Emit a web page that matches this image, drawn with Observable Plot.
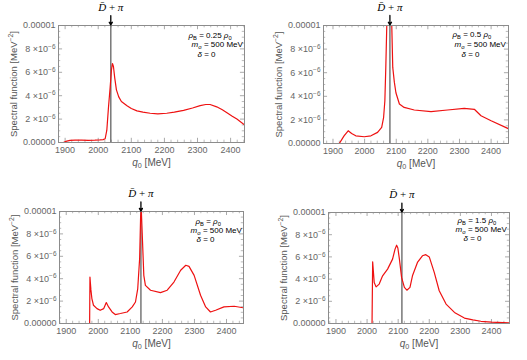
<!DOCTYPE html>
<html><head><meta charset="utf-8">
<script src="https://cdn.jsdelivr.net/npm/d3@7"></script>
<script src="https://cdn.jsdelivr.net/npm/@observablehq/plot@0.6"></script>
<style>
body{margin:0;background:#fff;}
#wrap{position:relative;width:527px;height:360px;overflow:hidden;font-family:"Liberation Sans",Arial,sans-serif;}
.panel{position:absolute;}
</style></head><body><div id="wrap"></div>
<script>
// ---- data (q0 in MeV, spectral function in units of 1e-6 MeV^-2) ----
const q1 = [1896,1905,1915,1930,1950,1970,1990,2005,2015,2021,2026,2031,2036,2040,2043,2046,2050,2055,2062,2070,2087,2100,2117,2135,2157,2180,2207,2230,2258,2285,2308,2325,2338,2358,2375,2389,2405,2419,2442];
const a1 = [0.02,0.12,0.18,0.2,0.2,0.19,0.2,0.22,0.25,0.32,1.05,3.0,4.7,6.2,6.75,6.5,5.5,4.5,3.9,3.5,3.15,2.9,2.7,2.6,2.5,2.45,2.5,2.6,2.75,2.95,3.15,3.25,3.25,3.05,2.8,2.55,2.25,2.0,1.5];

const q2 = [1920,1935,1948,1959,1972,1999,2020,2041,2054,2060,2064,2067,2071,2078,2085,2089,2094,2099,2110,2125,2157,2210,2262,2315,2347,2368,2400,2455];
const a2 = [0,0.65,1.08,0.85,0.65,0.57,0.65,0.94,1.36,2.2,3.6,6.45,11,25,11,6.45,5.2,4.3,3.35,3.06,2.84,2.7,2.84,2.97,2.9,2.35,1.93,1.25];

const q3 = [1879,1973,1974,1977,1980,1985,1996,2006,2017,2025,2032,2043,2053,2069,2090,2106,2116,2123,2129,2132,2134,2138,2142,2147,2163,2194,2215,2236,2257,2273,2283,2299,2319,2335,2350,2366,2392,2424,2453];
const a3 = [0,0,4.15,3.0,2.23,1.63,1.33,1.18,1.33,1.87,1.48,1.03,0.8,0.89,1.03,1.48,1.92,3.1,5.8,9.5,10.3,7.3,4.3,3.4,2.97,2.76,2.97,3.7,4.75,5.2,5.1,4.3,2.52,1.48,1.03,1.18,1.48,1.54,1.4];

const q4 = [2016,2018,2023,2029,2039,2050,2066,2082,2090,2095,2099,2104,2111,2120,2128,2138,2146,2162,2178,2189,2200,2216,2232,2254,2281,2313,2340,2366,2400,2458];
const a4 = [0,5.56,3.7,3.3,3.55,4.3,4.9,5.8,6.7,7.05,6.8,5.8,4.15,3.25,3.0,3.25,4.3,5.5,6.1,6.2,6.0,4.6,2.95,1.75,1.0,0.49,0.32,0.2,0.12,0.05];

const thresholds = [2038, 2080, 2133, 2112];
const densityLabels = ["*ρ*_{B} = 0.25 *ρ*_{0}", "*ρ*_{B} = 0.5 *ρ*_{0}", "*ρ*_{B} = *ρ*_{0}", "*ρ*_{B} = 1.5 *ρ*_{0}"];
const massLabel = "*m*_{σ} = 500 MeV";
const deltaLabel = "*δ* = 0";
const thresholdLabel = "*D\u0304* + *π*";
const xLabel = "*q*_{0} [MeV]";
const yLabel = "Spectral function [MeV^{−2}]";
const xTicks = [1900,2000,2100,2200,2300,2400];
const yTicks = [0,2,4,6,8,10];

// ---- layout ----
const panels = [
  {q:q1,a:a1,dom:[1880,2442],left:0,top:0,w:264,h:175,m:[25,20,33,58],ann:[[-56,10],[-53,19],[-47,29]]},
  {q:q2,a:a2,dom:[1870,2455],left:264,top:0,w:263,h:175,m:[25,19,32,59],ann:[[-56,9],[-54,19],[-47,29]]},
  {q:q3,a:a3,dom:[1879,2453],left:0,top:175,w:264,h:185,m:[36,21,37,59],ann:[[-48,10],[-53,19],[-47,28]]},
  {q:q4,a:a4,dom:[1876,2458],left:264,top:175,w:263,h:185,m:[37,18,37,64],ann:[[-52,8],[-54,17],[-46,26]]}
];

function fmtY(d){
  if (d === 0) return "0.00000";
  if (d === 10) return "0.00001";
  return d + " ×10^{−6}";
}

function rich(el){
  const s = el.textContent;
  if (!/[_*^]/.test(s)) return;
  const sel = d3.select(el);
  sel.text(null);
  const re = /\*([^*]+)\*|_\{([^}]*)\}|\^\{([^}]*)\}|([^*_^]+)/g;
  let m, pending = 0;
  while ((m = re.exec(s))) {
    let t;
    if (m[1] !== undefined) t = sel.append("tspan").attr("font-style","italic").text(m[1]);
    else if (m[2] !== undefined || m[3] !== undefined) {
      const shift = m[2] !== undefined ? 2.2 : -3.2;
      t = sel.append("tspan").attr("font-size","72%").text(m[2] !== undefined ? m[2] : m[3]);
      t.attr("dy", shift + pending); pending = -shift; continue;
    } else t = sel.append("tspan").text(m[4]);
    if (pending) { t.attr("dy", pending); pending = 0; }
  }
}

const wrap = document.getElementById("wrap");
const minorX = d3.range(1880, 2460, 20).filter(v => v % 100 !== 0);
const minorY = d3.range(0, 10.01, 0.5).filter(v => v % 2 !== 0);

panels.forEach((p, i) => {
  const data = p.q.map((q, j) => ({q, a: p.a[j]}));
  const [d0, d1] = p.dom;
  const minX = minorX.filter(v => v > d0 && v < d1);
  const tx = (d1 - d0) * 0.022, txs = tx * 0.55;
  const chart = Plot.plot({
    width: p.w, height: p.h,
    marginTop: p.m[0], marginRight: p.m[1], marginBottom: p.m[2], marginLeft: p.m[3],
    style: {fontFamily: "'Liberation Sans', Arial, sans-serif", fontSize: "9px", color: "#666", background: "transparent", overflow: "visible"},
    x: {domain: p.dom, label: null},
    y: {domain: [0, 10], label: null},
    marks: [
      // inward frame ticks
      Plot.ruleX(xTicks, {x: d => d, y1: 0, y2: 0.36, stroke: "#aaa"}),
      Plot.ruleX(xTicks, {x: d => d, y1: 10, y2: 9.64, stroke: "#aaa"}),
      Plot.ruleX(minX, {x: d => d, y1: 0, y2: 0.2, stroke: "#bbb"}),
      Plot.ruleX(minX, {x: d => d, y1: 10, y2: 9.8, stroke: "#bbb"}),
      Plot.ruleY(yTicks, {y: d => d, x1: d0, x2: d0 + tx, stroke: "#aaa"}),
      Plot.ruleY(yTicks, {y: d => d, x1: d1, x2: d1 - tx, stroke: "#aaa"}),
      Plot.ruleY(minorY, {y: d => d, x1: d0, x2: d0 + txs, stroke: "#bbb"}),
      Plot.ruleY(minorY, {y: d => d, x1: d1, x2: d1 - txs, stroke: "#bbb"}),
      Plot.ruleX([thresholds[i]], {x: d => d, stroke: "#777", strokeWidth: 1.5}),
      Plot.line(data, {x: "q", y: "a", stroke: "#ee1111", strokeWidth: 1.2, clip: true}),
      Plot.frame({stroke: "#8c8c8c"}),
      Plot.axisX({ticks: xTicks, tickSize: 0, tickPadding: 4, tickFormat: d => String(d), label: null}),
      Plot.axisY({ticks: yTicks, tickSize: 0, tickPadding: 3, tickFormat: fmtY, label: null}),
      Plot.text([yLabel], {frameAnchor: "left", textAnchor: "middle", lineAnchor: "middle", dx: -45, rotate: -90, fontSize: 9.5, fill: "#555"}),
      Plot.text([xLabel], {frameAnchor: "bottom", lineAnchor: "middle", dy: 20, fontSize: 10, fill: "#555"}),
      Plot.text([thresholds[i]], {x: d => d, frameAnchor: "top", lineAnchor: "middle", dy: -18, text: () => thresholdLabel, fontFamily: "'Liberation Serif', 'DejaVu Serif', serif", fontSize: 11, fill: "black"}),
      Plot.arrow([thresholds[i]], {x: d => d, y1: 10.85, y2: 10.04, stroke: "black", strokeWidth: 1.3, headLength: 5}),
      Plot.text([densityLabels[i]], {frameAnchor: "top-right", lineAnchor: "middle", dx: p.ann[0][0], dy: p.ann[0][1], textAnchor: "start", fontSize: 8, fill: "black"}),
      Plot.text([massLabel], {frameAnchor: "top-right", lineAnchor: "middle", dx: p.ann[1][0], dy: p.ann[1][1], textAnchor: "start", fontSize: 8, fill: "black"}),
      Plot.text([deltaLabel], {frameAnchor: "top-right", lineAnchor: "middle", dx: p.ann[2][0], dy: p.ann[2][1], textAnchor: "start", fontSize: 8, fill: "black"})
    ]
  });
  d3.select(chart).selectAll("text").each(function(){ rich(this); });
  const div = document.createElement("div");
  div.className = "panel";
  div.style.left = p.left + "px";
  div.style.top = p.top + "px";
  div.appendChild(chart);
  wrap.appendChild(div);
});
</script>
</body></html>
